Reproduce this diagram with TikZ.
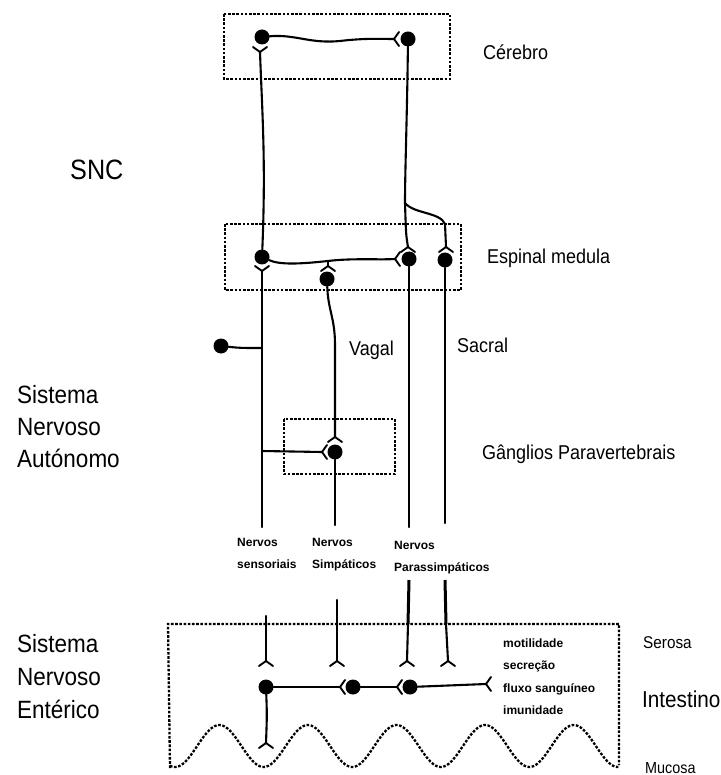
\documentclass[tikz,border=0pt]{standalone}
\usepackage{fontspec}
\usepackage{graphicx}
\setmainfont{Liberation Sans}
\usetikzlibrary{calc}
\newcommand\nw[1]{\scalebox{0.9}[1]{#1}}
\newcommand\forkU[1]{\draw[arm] (#1) -- ++(-7,-5) (#1) -- ++(7,-5);}
\newcommand\forkD[1]{\draw[arm] (#1) -- ++(-7,5) (#1) -- ++(7,5);}
\newcommand\forkR[1]{\draw[arm] (#1) -- ++(5,-7) (#1) -- ++(5,7);}
\begin{document}
\begin{tikzpicture}[x=1pt,y=-1pt,
  neuron/.style={circle,fill=black,inner sep=0pt,minimum size=15pt},
  axon/.style={line width=2.1pt, line cap=round},
  thickaxon/.style={line width=3pt},
  arm/.style={line width=1.9pt, line cap=round},
  zone/.style={line width=2.3pt, dash pattern=on 2.6pt off 1.6pt},
  lab/.style={anchor=base west, inner sep=0pt, font=\fontsize{20}{24}\selectfont},
  big/.style={anchor=base west, inner sep=0pt, font=\fontsize{25}{30}\selectfont},
  small/.style={anchor=base west, inner sep=0pt, font=\bfseries\fontsize{12}{14}\selectfont},
]
\fill[white] (0,0) rectangle (720,775);
\useasboundingbox (0,0) rectangle (720,775);

% ---------- dashed zones ----------
\draw[zone] (224,14) rectangle (450,79);
\draw[zone] (225,224) rectangle (461,290);
\draw[zone] (284,419) rectangle (395,474);
\draw[zone] (170,768) -- (168,624) -- (619,624) -- (619,765);
\draw[zone] plot[domain=170:619, samples=220] (\x, {746+21*cos(4.0632*(\x-175))});

% ---------- Cerebro ----------
\node[neuron] (c1) at (262,37) {};
\node[neuron] (c2) at (408,39) {};
\coordinate (fc1) at (260,52);
\coordinate (fc2) at (394,39);
\draw[axon] (c1) .. controls (295,34) and (310,44) .. (340,41) .. controls (365,38) and (380,39) .. (fc2);
\forkR{fc2}
\forkU{fc1}

% ---------- Espinal medula ----------
\node[neuron] (e1) at (262,257) {};
\node[neuron] (e2) at (327,279) {};
\node[neuron] (e3) at (409,259) {};
\node[neuron] (e4) at (445,260) {};
\coordinate (fe1) at (262,271);
\coordinate (fe2) at (328,266);
\coordinate (fe3) at (408,247);
\coordinate (fe4) at (446,247);
\coordinate (fe3r) at (395,259);
\coordinate (j2) at (328,261);
\coordinate (br) at (405,203);

\draw[axon] (fc1) .. controls (262,110) and (266,160) .. (e1);
\draw[axon] (c2) .. controls (407,120) and (405,170) .. (br);
\draw[axon] (br) .. controls (406,235) .. (fe3);
\draw[axon] (br) .. controls (414,214) and (440,212) .. (445,224) -- (fe4);
\draw[axon] (e1) .. controls (280,265) and (300,264) .. (j2) .. controls (352,258) and (380,260) .. (fe3r);
\draw[axon] (j2) -- (fe2);
\forkR{fe3r}
\forkD{fe2}
\forkD{fe3}
\forkD{fe4}
\forkU{fe1}

% ---------- Autonomic part ----------
\node[neuron] (sd) at (221,346) {};
\node[neuron] (g) at (335,452) {};
\coordinate (sj) at (262,348);
\coordinate (gj) at (262,451);
\coordinate (fg) at (322,452);
\coordinate (fgt) at (335,437);
\coordinate (sEnd) at (262,527);
\coordinate (gEnd) at (335,525);
\coordinate (pEnd) at (409,527);
\coordinate (qEnd) at (445,523);

\draw[axon] (fe1) -- (sEnd);
\draw[axon] (sd) .. controls (240,348) .. (sj);
\draw[axon] (gj) -- (fg);
\forkR{fg}
\draw[axon] (e2) .. controls (328,310) and (335,318) .. (335,345) -- (fgt);
\forkD{fgt}
\draw[axon] (g) -- (gEnd);
\draw[axon] (e3) -- (pEnd);
\draw[axon] (e4) -- (qEnd);

% ---------- Enteric ----------
\coordinate (t1) at (266,616);
\coordinate (t2) at (337,600);
\coordinate (t3) at (409,580);
\coordinate (t4) at (445,580);
\coordinate (m3) at (408,624);
\coordinate (m4) at (446,624);
\coordinate (f1) at (266,661);
\coordinate (f2) at (337,661);
\coordinate (f3) at (407,661);
\coordinate (f4) at (448,661);
\draw[thickaxon] (t3) -- (m3);
\draw[thickaxon] (t4) -- (m4);
\draw[axon] (t1) -- (f1);
\draw[axon] (t2) -- (f2);
\draw[axon] (m3) -- (f3);
\draw[axon] (m4) -- (f4);
\forkD{f1}
\forkD{f2}
\forkD{f3}
\forkD{f4}

\node[neuron] (d1) at (266,687) {};
\node[neuron] (d2) at (353,687) {};
\node[neuron] (d3) at (410,687) {};
\coordinate (fd2) at (340,687);
\coordinate (fd3) at (397,687);
\coordinate (fend) at (486,684);
\coordinate (fm) at (266,743);
\draw[axon] (d1) -- (fd2);
\draw[axon] (d2) -- (fd3);
\draw[axon] (d3) -- (fend);
\draw[axon] (d1) .. controls (267,715) .. (fm);
\forkR{fd2}
\forkR{fd3}
\forkR{fend}
\forkD{fm}

% ---------- labels ----------
\node[big, font=\fontsize{28}{32}\selectfont] (snc) at (70,180) {\nw{SNC}};
\node[big] (a1) at (17,403) {\nw{Sistema}};
\node[big] (a2) at (17,435) {\nw{Nervoso}};
\node[big] (a3) at (17,467) {\nw{Autónomo}};
\node[big] (n1) at (17,652) {\nw{Sistema}};
\node[big] (n2) at (17,685) {\nw{Nervoso}};
\node[big] (n3) at (17,718) {\nw{Entérico}};

\node[lab] (lc) at (483,60) {\nw{Cérebro}};
\node[lab] (le) at (487,263) {\nw{Espinal medula}};
\node[lab] (lv) at (349,355) {\nw{Vagal}};
\node[lab] (ls) at (457,352) {\nw{Sacral}};
\node[lab] (lg) at (482,459) {\nw{Gânglios Paravertebrais}};
\node[lab, font=\fontsize{17}{20}\selectfont] (lse) at (643,648) {\nw{Serosa}};
\node[lab, font=\fontsize{23}{26}\selectfont] (lin) at (642,707) {\nw{Intestino}};
\node[lab, font=\fontsize{16}{19}\selectfont] (lmu) at (645,773) {\nw{Mucosa}};

\node[small] (s1) at (237,546) {Nervos};
\node[small] (s2) at (237,568) {sensoriais};
\node[small] (s3) at (312,546) {Nervos};
\node[small] (s4) at (312,568) {Simpáticos};
\node[small] (s5) at (394,549) {Nervos};
\node[small] (s6) at (394,571) {Parassimpáticos};

\node[small] (r1) at (503,647) {motilidade};
\node[small] (r2) at (503,669) {secreção};
\node[small] (r3) at (503,692) {fluxo sanguíneo};
\node[small] (r4) at (503,714) {imunidade};
\end{tikzpicture}
\end{document}
